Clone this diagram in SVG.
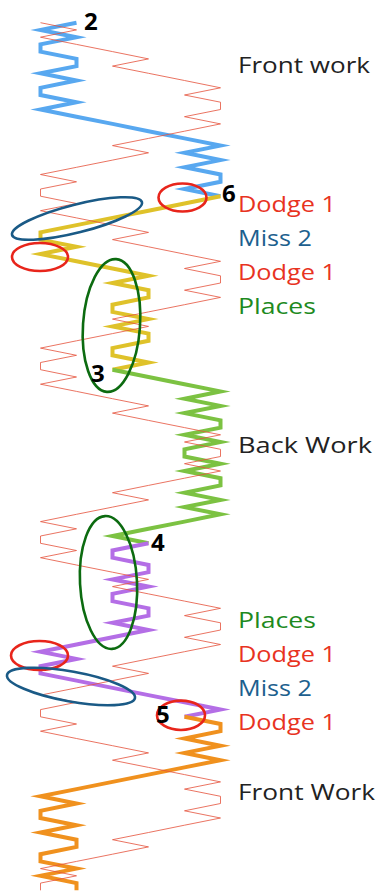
<svg xmlns="http://www.w3.org/2000/svg" width="378" height="891" viewBox="0 0 378 891">
<style>
.lead{fill:none;stroke-width:4;stroke-linejoin:miter;stroke-miterlimit:10;stroke-linecap:butt}
.treble{fill:none;stroke:#e5533d;stroke-width:0.9;stroke-linejoin:miter;opacity:0.9}
.ring{fill:none;stroke-width:2.6}
.lbl{font-family:"Open Sans","Noto Sans",sans-serif;font-size:22px}
.num{font-family:"Open Sans","Noto Sans",sans-serif;font-size:24px;font-weight:bold;fill:#000}
</style>
<rect width="378" height="891" fill="#fff"/>
<g id="connectors">
<polyline id="lead-1" class="lead" stroke="#58a8f0" points="76.5,22.7 40.5,29.9 76.5,37.2 40.5,44.4 40.5,51.6 76.5,58.9 76.5,66.1 40.5,73.3 76.5,80.5 40.5,87.8 40.5,95.0 76.5,102.2 40.5,109.5 76.5,116.7 112.5,123.9 148.5,131.2 184.5,138.4 220.5,145.6 184.5,152.8 220.5,160.1 184.5,167.3 220.5,174.5 220.5,181.8 184.5,189.0 220.5,196.2"/>
<polyline id="lead-2" class="lead" stroke="#dfc22a" points="220.5,196.2 184.5,203.5 148.5,210.7 112.5,217.9 76.5,225.1 40.5,232.4 40.5,239.6 76.5,246.8 40.5,254.1 76.5,261.3 112.5,268.5 148.5,275.8 112.5,283.0 148.5,290.2 148.5,297.4 112.5,304.7 112.5,311.9 148.5,319.1 112.5,326.4 148.5,333.6 148.5,340.8 112.5,348.1 112.5,355.3 148.5,362.5 112.5,369.7"/>
<polyline id="lead-3" class="lead" stroke="#7cc242" points="112.5,369.7 148.5,377.0 184.5,384.2 220.5,391.4 184.5,398.7 220.5,405.9 184.5,413.1 220.5,420.4 220.5,427.6 184.5,434.8 220.5,442.0 184.5,449.3 184.5,456.5 220.5,463.7 184.5,471.0 220.5,478.2 220.5,485.4 184.5,492.7 220.5,499.9 184.5,507.1 220.5,514.3 184.5,521.6 148.5,528.8 112.5,536.0 148.5,543.3"/>
<polyline id="lead-4" class="lead" stroke="#b46ee6" points="148.5,543.3 112.5,550.5 112.5,557.7 148.5,565.0 148.5,572.2 112.5,579.4 148.5,586.6 112.5,593.9 112.5,601.1 148.5,608.3 148.5,615.6 112.5,622.8 148.5,630.0 112.5,637.3 76.5,644.5 40.5,651.7 76.5,658.9 40.5,666.2 40.5,673.4 76.5,680.6 112.5,687.9 148.5,695.1 184.5,702.3 220.5,709.6 184.5,716.8"/>
<polyline id="lead-5" class="lead" stroke="#f0911e" points="184.5,716.8 220.5,724.0 220.5,731.2 184.5,738.5 220.5,745.7 184.5,752.9 220.5,760.2 184.5,767.4 148.5,774.6 112.5,781.9 76.5,789.1 40.5,796.3 76.5,803.5 40.5,810.8 40.5,818.0 76.5,825.2 40.5,832.5 76.5,839.7 76.5,846.9 40.5,854.2 40.5,861.4 76.5,868.6 40.5,875.8 76.5,883.1 76.5,890.3"/>
<polyline id="treble" class="treble" points="40.5,22.7 76.5,29.9 40.5,37.2 76.5,44.4 112.5,51.6 148.5,58.9 112.5,66.1 148.5,73.3 184.5,80.5 220.5,87.8 184.5,95.0 220.5,102.2 220.5,109.5 184.5,116.7 220.5,123.9 184.5,131.2 148.5,138.4 112.5,145.6 148.5,152.8 112.5,160.1 76.5,167.3 40.5,174.5 76.5,181.8 40.5,189.0 40.5,196.2 76.5,203.5 40.5,210.7 76.5,217.9 112.5,225.1 148.5,232.4 112.5,239.6 148.5,246.8 184.5,254.1 220.5,261.3 184.5,268.5 220.5,275.8 220.5,283.0 184.5,290.2 220.5,297.4 184.5,304.7 148.5,311.9 112.5,319.1 148.5,326.4 112.5,333.6 76.5,340.8 40.5,348.1 76.5,355.3 40.5,362.5 40.5,369.7 76.5,377.0 40.5,384.2 76.5,391.4 112.5,398.7 148.5,405.9 112.5,413.1 148.5,420.4 184.5,427.6 220.5,434.8 184.5,442.0 220.5,449.3 220.5,456.5 184.5,463.7 220.5,471.0 184.5,478.2 148.5,485.4 112.5,492.7 148.5,499.9 112.5,507.1 76.5,514.3 40.5,521.6 76.5,528.8 40.5,536.0 40.5,543.3 76.5,550.5 40.5,557.7 76.5,565.0 112.5,572.2 148.5,579.4 112.5,586.6 148.5,593.9 184.5,601.1 220.5,608.3 184.5,615.6 220.5,622.8 220.5,630.0 184.5,637.3 220.5,644.5 184.5,651.7 148.5,658.9 112.5,666.2 148.5,673.4 112.5,680.6 76.5,687.9 40.5,695.1 76.5,702.3 40.5,709.6 40.5,716.8 76.5,724.0 40.5,731.2 76.5,738.5 112.5,745.7 148.5,752.9 112.5,760.2 148.5,767.4 184.5,774.6 220.5,781.9 184.5,789.1 220.5,796.3 220.5,803.5 184.5,810.8 220.5,818.0 184.5,825.2 148.5,832.5 112.5,839.7 148.5,846.9 112.5,854.2 76.5,861.4 40.5,868.6 76.5,875.8 40.5,883.1 40.5,890.3"/>
</g>
<g id="rings">
<ellipse id="ring-dodge-a" class="ring" stroke="#e8251b" cx="182.5" cy="197.5" rx="24" ry="14"/>
<ellipse id="ring-miss-a" class="ring" stroke="#1a5a86" cx="77" cy="218.5" rx="67" ry="14" transform="rotate(-14.2 77 218.5)"/>
<ellipse id="ring-dodge-b" class="ring" stroke="#e8251b" cx="40" cy="257" rx="28" ry="14"/>
<ellipse id="ring-places-a" class="ring" stroke="#0c6b10" cx="111.5" cy="325.5" rx="28.5" ry="66.5" transform="rotate(4 111.5 325.5)"/>
<ellipse id="ring-places-b" class="ring" stroke="#0c6b10" cx="108.5" cy="582.5" rx="28.5" ry="66.5" transform="rotate(-3 108.5 582.5)"/>
<ellipse id="ring-dodge-c" class="ring" stroke="#e8251b" cx="39.5" cy="655.5" rx="28.5" ry="14.5"/>
<ellipse id="ring-miss-b" class="ring" stroke="#1a5a86" cx="71" cy="686.5" rx="65" ry="15" transform="rotate(10.2 71 686.5)"/>
<ellipse id="ring-dodge-d" class="ring" stroke="#e8251b" cx="181" cy="715.3" rx="24" ry="14.7"/>
</g>
<g id="lead-numbers">
<text class="num" x="84" y="30">2</text>
<text class="num" x="222" y="202">6</text>
<text class="num" x="91" y="382">3</text>
<text class="num" x="151" y="551">4</text>
<text class="num" x="156" y="723">5</text>
</g>
<g id="labels">
<text class="lbl" x="238" y="73" fill="#222" textLength="132" lengthAdjust="spacingAndGlyphs">Front work</text>
<text class="lbl" x="238" y="212" fill="#e8331f" textLength="98" lengthAdjust="spacingAndGlyphs">Dodge 1</text>
<text class="lbl" x="238" y="246" fill="#1d5f8e" textLength="74" lengthAdjust="spacingAndGlyphs">Miss 2</text>
<text class="lbl" x="238" y="280" fill="#e8331f" textLength="98" lengthAdjust="spacingAndGlyphs">Dodge 1</text>
<text class="lbl" x="238" y="314" fill="#1e8a1e" textLength="78" lengthAdjust="spacingAndGlyphs">Places</text>
<text class="lbl" x="238" y="453" fill="#222" textLength="134" lengthAdjust="spacingAndGlyphs">Back Work</text>
<text class="lbl" x="238" y="628" fill="#1e8a1e" textLength="78" lengthAdjust="spacingAndGlyphs">Places</text>
<text class="lbl" x="238" y="662" fill="#e8331f" textLength="98" lengthAdjust="spacingAndGlyphs">Dodge 1</text>
<text class="lbl" x="238" y="696" fill="#1d5f8e" textLength="74" lengthAdjust="spacingAndGlyphs">Miss 2</text>
<text class="lbl" x="238" y="730" fill="#e8331f" textLength="98" lengthAdjust="spacingAndGlyphs">Dodge 1</text>
<text class="lbl" x="238" y="800" fill="#222" textLength="137" lengthAdjust="spacingAndGlyphs">Front Work</text>
</g>
</svg>
